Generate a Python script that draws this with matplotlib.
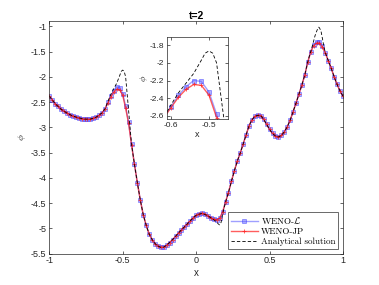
import numpy as np
import matplotlib
matplotlib.use("Agg")
import matplotlib.pyplot as plt

# grid of the numerical solutions, dx = 0.02
x = np.linspace(-1, 1, 101)

phi_L = [-2.38, -2.45, -2.53, -2.585, -2.64, -2.68, -2.715, -2.745, -2.775, -2.795,
         -2.81, -2.825, -2.835, -2.84, -2.835, -2.82, -2.795, -2.76, -2.71, -2.63,
         -2.50, -2.37, -2.27, -2.20, -2.21, -2.33, -2.58, -2.90, -3.33, -3.73,
         -4.10, -4.44, -4.73, -4.94, -5.11, -5.22, -5.30, -5.35, -5.375, -5.37,
         -5.33, -5.28, -5.22, -5.16, -5.09, -5.03, -4.97, -4.91, -4.85, -4.79,
         -4.74, -4.71, -4.70, -4.72, -4.75, -4.79, -4.82, -4.83, -4.80, -4.68,
         -4.48, -4.29, -4.07, -3.86, -3.67, -3.51, -3.33, -3.15, -2.97, -2.85,
         -2.78, -2.76, -2.765, -2.84, -2.94, -3.04, -3.12, -3.17, -3.19, -3.16,
         -3.09, -2.99, -2.86, -2.69, -2.52, -2.34, -2.16, -1.96, -1.70, -1.50,
         -1.36, -1.30, -1.30, -1.39, -1.52, -1.68, -1.83, -2.00, -2.15, -2.28,
         -2.38]

phi_JP = [-2.38, -2.45, -2.53, -2.585, -2.64, -2.68, -2.715, -2.745, -2.775, -2.795,
          -2.81, -2.825, -2.835, -2.84, -2.835, -2.82, -2.795, -2.76, -2.71, -2.635,
          -2.51, -2.39, -2.30, -2.245, -2.255, -2.365, -2.62, -2.92, -3.34, -3.73,
          -4.10, -4.44, -4.73, -4.94, -5.11, -5.22, -5.30, -5.35, -5.375, -5.37,
          -5.33, -5.28, -5.22, -5.16, -5.09, -5.03, -4.97, -4.91, -4.85, -4.79,
          -4.74, -4.71, -4.70, -4.72, -4.75, -4.79, -4.82, -4.83, -4.80, -4.68,
          -4.48, -4.29, -4.07, -3.86, -3.67, -3.51, -3.33, -3.15, -2.97, -2.85,
          -2.78, -2.76, -2.765, -2.84, -2.94, -3.04, -3.12, -3.17, -3.19, -3.16,
          -3.09, -2.99, -2.86, -2.69, -2.52, -2.34, -2.16, -1.96, -1.71, -1.51,
          -1.38, -1.33, -1.33, -1.41, -1.53, -1.68, -1.83, -2.00, -2.15, -2.28,
          -2.38]

x_exact = [-1.0, -0.96, -0.92, -0.88, -0.84, -0.8, -0.76, -0.72, -0.68, -0.64,
           -0.62, -0.6, -0.58, -0.56, -0.54, -0.52, -0.51, -0.5, -0.49, -0.48,
           -0.47, -0.46, -0.45, -0.44, -0.42, -0.4, -0.38, -0.36, -0.34, -0.32,
           -0.3, -0.28, -0.26, -0.24, -0.22, -0.2, -0.16, -0.12, -0.08, -0.04,
           0.0, 0.04, 0.08, 0.1, 0.12, 0.14, 0.15, 0.16, 0.17, 0.18,
           0.19, 0.2, 0.22, 0.24, 0.26, 0.28, 0.3, 0.32, 0.34, 0.36,
           0.38, 0.4, 0.42, 0.44, 0.46, 0.48, 0.5, 0.52, 0.54, 0.56,
           0.58, 0.6, 0.62, 0.64, 0.66, 0.68, 0.7, 0.72, 0.74, 0.76,
           0.78, 0.79, 0.8, 0.81, 0.82, 0.83, 0.835, 0.84, 0.85, 0.86,
           0.87, 0.88, 0.9, 0.92, 0.94, 0.96, 0.98, 1.0]
phi_exact = [-2.38, -2.53, -2.64, -2.715, -2.775, -2.81, -2.835, -2.835, -2.795, -2.71,
             -2.63, -2.48, -2.34, -2.23, -2.12, -1.97, -1.89, -1.865, -1.89, -2.00,
             -2.33, -2.66, -3.00, -3.33, -3.73, -4.10, -4.44, -4.73, -4.94, -5.11,
             -5.22, -5.30, -5.35, -5.375, -5.37, -5.33, -5.22, -5.09, -4.97, -4.85,
             -4.74, -4.70, -4.75, -4.79, -4.83, -4.87, -4.91, -4.93, -4.88, -4.72,
             -4.60, -4.48, -4.29, -4.07, -3.86, -3.67, -3.51, -3.33, -3.15, -2.97,
             -2.85, -2.78, -2.76, -2.765, -2.84, -2.94, -3.04, -3.12, -3.17, -3.19,
             -3.16, -3.09, -2.99, -2.86, -2.69, -2.52, -2.34, -2.16, -1.96, -1.70,
             -1.50, -1.40, -1.29, -1.18, -1.10, -1.03, -1.015, -1.03, -1.09, -1.24,
             -1.40, -1.52, -1.68, -1.83, -2.00, -2.15, -2.28, -2.38]

plt.rcParams['font.family'] = ['Liberation Sans', 'DejaVu Sans']
plt.rcParams['mathtext.fontset'] = 'cm'
plt.rcParams['axes.unicode_minus'] = False
edge = (0.15, 0.15, 0.15)


def style(ax, fs):
    ax.tick_params(direction='in', top=True, right=True, labelsize=fs,
                   colors=edge, length=2.5, width=0.5, pad=2)
    for s in ax.spines.values():
        s.set_color(edge)
        s.set_linewidth(0.5)


def draw(ax, ms):
    ax.plot(x, phi_L, '-s', color=(0.25, 0.25, 1.0), alpha=0.5, lw=1.0,
            ms=ms, mfc=(0.4, 0.4, 1.0), mec=(0.2, 0.2, 1.0), mew=0.6,
            label=r'WENO-$\mathcal{L}$')
    ax.plot(x, phi_JP, '-+', color=(1.0, 0.1, 0.1), alpha=0.7, lw=1.0,
            ms=ms + 0.5, mew=0.7, label='WENO-JP')
    ax.plot(x_exact, phi_exact, '--', color='k', lw=0.6, dashes=(4, 2.5),
            label='Analytical solution')


fig = plt.figure(figsize=(3.79, 2.85), dpi=100)
ax = fig.add_axes([0.13, 0.11, 0.775, 0.815])
draw(ax, 2.2)
ax.set_xlim(-1, 1)
ax.set_ylim(-5.5, -0.9)
ax.set_xticks([-1, -0.5, 0, 0.5, 1])
ax.set_xticklabels(['-1', '-0.5', '0', '0.5', '1'])
ax.set_yticks([-5.5, -5, -4.5, -4, -3.5, -3, -2.5, -2, -1.5, -1])
ax.set_yticklabels(['-5.5', '-5', '-4.5', '-4', '-3.5', '-3', '-2.5', '-2', '-1.5', '-1'])
style(ax, 6.5)
ax.set_xlabel('x', fontsize=7, color=edge, labelpad=2)
ax.set_ylabel(r'$\phi$', fontsize=7, color=edge, labelpad=2)
ax.set_title('t=2', fontsize=7.5, fontweight='bold', pad=2)
leg = ax.legend(loc='lower right', prop={'family': 'cmr10', 'size': 6.5},
                fancybox=False, edgecolor=edge, handlelength=3.0, borderpad=0.3,
                labelspacing=0.2, handletextpad=0.4, borderaxespad=0.5)
leg.get_frame().set_linewidth(0.6)

ins = fig.add_axes([0.4406, 0.5814, 0.161, 0.2877])
draw(ins, 3)
ins.set_xlim(-0.61, -0.45)
ins.set_ylim(-2.64, -1.71)
ins.set_xticks([-0.6, -0.5])
ins.set_xticklabels(['-0.6', '-0.5'])
ins.set_yticks([-2.6, -2.4, -2.2, -2.0, -1.8])
ins.set_yticklabels(['-2.6', '-2.4', '-2.2', '-2', '-1.8'])
style(ins, 6)
ins.set_xlabel('x', fontsize=6.5, color=edge, labelpad=1)
ins.set_ylabel(r'$\phi$', fontsize=6.5, color=edge, labelpad=0)

fig.savefig('out.png', dpi=100)
